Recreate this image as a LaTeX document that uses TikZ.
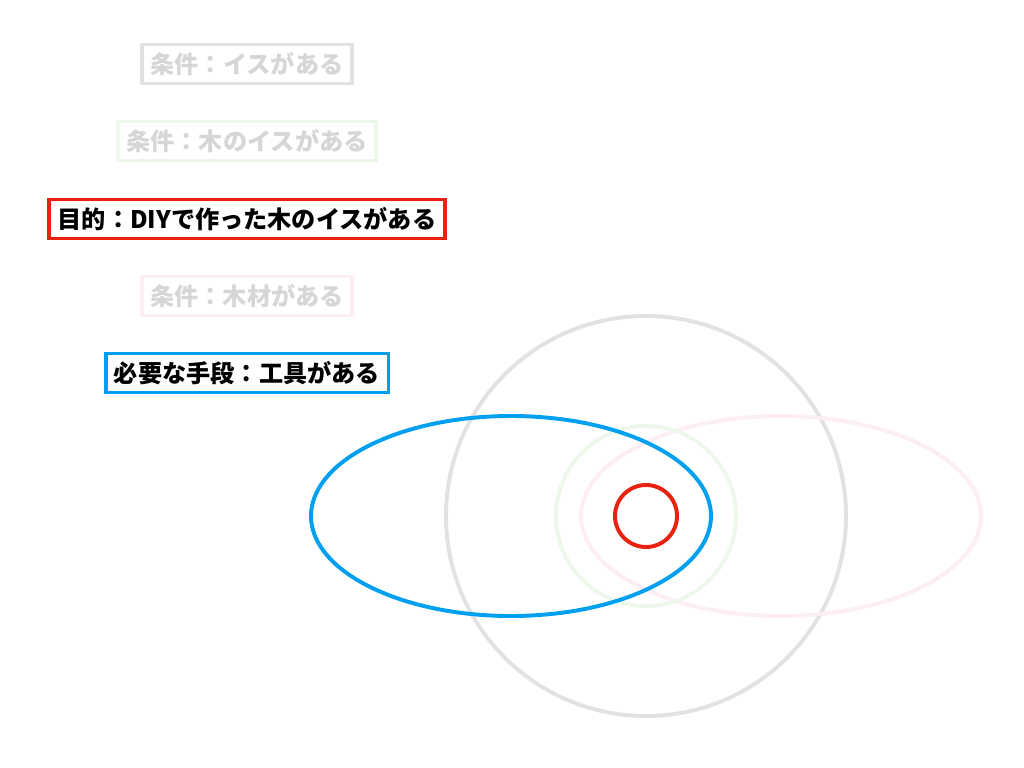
\documentclass[tikz,border=0pt]{standalone}
\usepackage{fontspec}
\newfontfamily\jpfont{Noto Sans CJK JP}
\usepackage{xcolor}
\usetikzlibrary{positioning}
\definecolor{ringgray}{HTML}{E2E2E2}
\definecolor{ringgreen}{HTML}{EEF8EA}
\definecolor{ringpink}{HTML}{FDEEF3}
\definecolor{goalred}{HTML}{E8220E}
\definecolor{meansblue}{HTML}{00A0F0}
\definecolor{fadetext}{HTML}{D6D6D6}
\tikzset{
  tag/.style={draw, line width=2.8pt, inner xsep=6pt, inner ysep=0pt, minimum height=0.975cm, font=\jpfont\bfseries\fontsize{17.2}{19}\selectfont},
  faded/.style={tag, text=fadetext},
  strong/.style={tag, text=black},
  ring/.style={line width=2.8pt},
}
\begin{document}
\begin{tikzpicture}[x=0.025cm, y=-0.025cm]
  \useasboundingbox (0,0) rectangle (1024,768);
  % conditions and goal
  \node[faded, draw=ringgray] (chair) at (247,64) {条件：イスがある};
  \node[faded, draw=ringgreen] (woodchair) at (247,141) {条件：木のイスがある};
  \node[strong, draw=goalred] (goal) at (247,219) {目的：DIYで作った木のイスがある};
  \node[faded, draw=ringpink] (lumber) at (247,296) {条件：木材がある};
  \node[strong, draw=meansblue] (tools) at (247,373) {必要な手段：工具がある};
  % sets
  \draw[ring, ringgray] (646,516) circle (200);
  \draw[ring, ringpink] (781,516) ellipse (200 and 100);
  \draw[ring, ringgreen] (646,516) circle (90);
  \draw[ring, meansblue] (511,516) ellipse (200 and 100);
  \draw[ring, goalred] (646,516) circle (31);
\end{tikzpicture}
\end{document}
